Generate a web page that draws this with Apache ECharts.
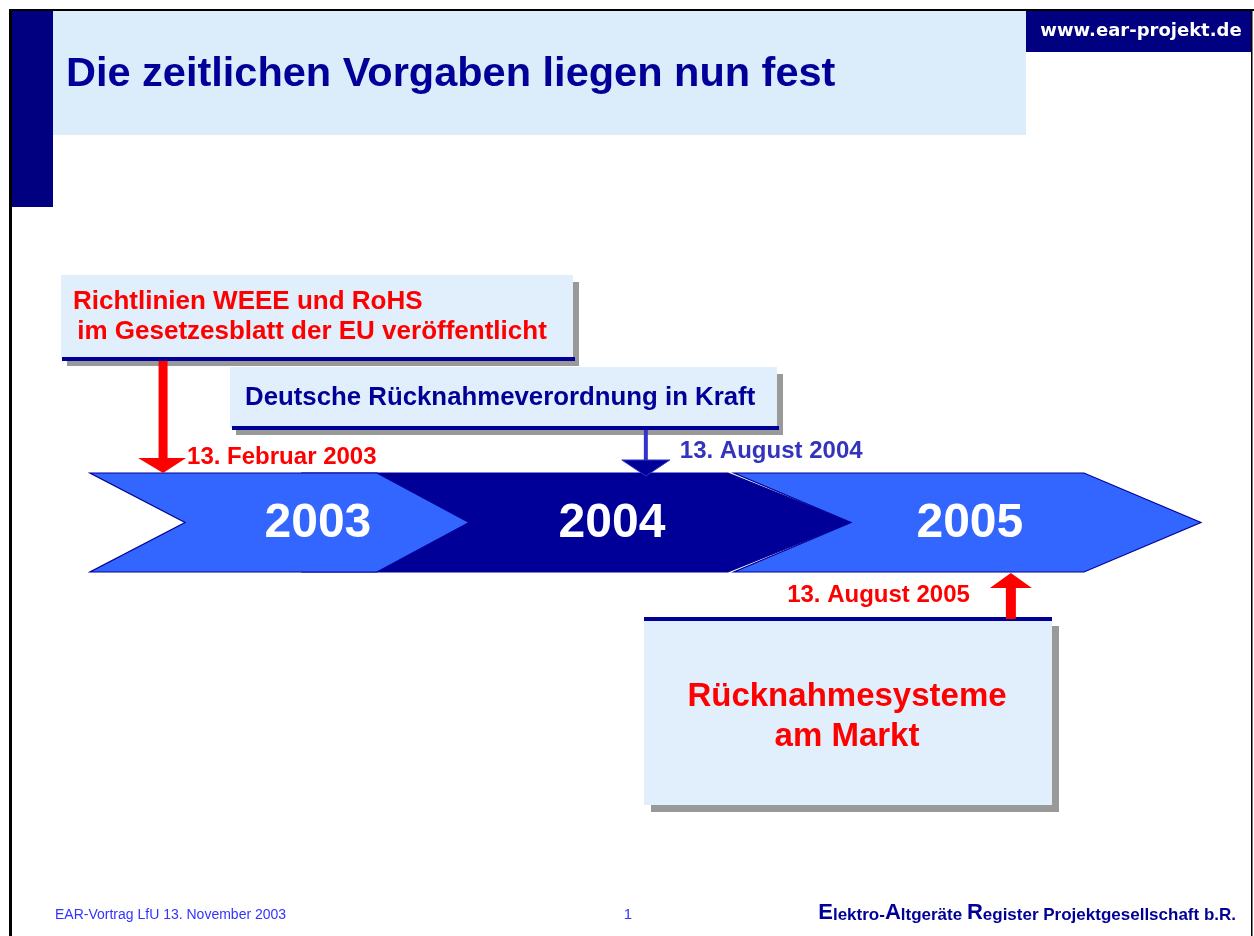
<!DOCTYPE html>
<html><head><meta charset="utf-8">
<script src="https://cdn.jsdelivr.net/npm/echarts@6/dist/echarts.min.js"></script>
<style>html,body{margin:0;padding:0;background:#fff}#c{width:1254px;height:936px}</style>
</head><body><div id="c"></div>
<script>
// ---- content / data ----
const titleText = 'Die zeitlichen Vorgaben liegen nun fest';
const siteText = 'www.ear-projekt.de';
const years = ['2003', '2004', '2005'];
// chevron extents on the timeline axis (year units)
const yearStart    = [2003.000, 2003.592, 2004.789];
const yearNotch    = [2003.264, 2003.856, 2005.114];
const yearShoulder = [2003.797, 2004.772, 2005.761];
const yearTip      = [2004.053, 2005.114, 2006.086];
const yearLabelAt  = [2003.633, 2004.450, 2005.444];
// events on the timeline
const eventDates = ['13. Februar 2003', '13. August 2004', '13. August 2005'];
const eventAt    = [2003.203, 2004.544, 2005.558];
const eventTexts = [
  ['Richtlinien WEEE und RoHS', ' im Gesetzesblatt der EU veröffentlicht'],
  ['Deutsche Rücknahmeverordnung in Kraft'],
  ['Rücknahmesysteme', 'am Markt']
];
const footerLeft = 'EAR-Vortrag LfU 13. November 2003';
const pageNo = '1';

// ---- layout / style ----
const FONT = '"Liberation Sans", Arial, Helvetica, sans-serif';
const NARROW = '"Liberation Sans Narrow", "Arial Narrow", "Liberation Sans", Arial, sans-serif';
const NAVY = '#000080';
const DARK = '#000099';
const BOXFILL = '#e1effc';
const L = { bandTop: 473, bandBottom: 572 };
const chevFill = ['#3366ff', '#000099', '#3366ff'];
const chevZ = [3, 1, 2];

const chart = echarts.init(document.getElementById('c'), null, { renderer: 'canvas' });

function renderChevron(params, api) {
  const i = params.dataIndex;
  const X = v => api.coord([v, 0])[0];
  const s = X(api.value(0)), sh = X(api.value(1)), tip = X(api.value(2)), n = X(api.value(3)), lab = X(api.value(4));
  const top = L.bandTop, bot = L.bandBottom, mid = (top + bot) / 2;
  return {
    type: 'group',
    children: [
      { type: 'polygon', z2: chevZ[i],
        shape: { points: [[s, top], [sh, top], [tip, mid], [sh, bot], [s, bot], [n, mid]] },
        style: { fill: chevFill[i], stroke: DARK, lineWidth: 1.2 } },
      { type: 'text', z2: 10,
        style: { text: years[i], x: lab, y: mid + 1, fill: '#ffffff', font: 'bold 48px ' + FONT,
                 align: 'center', verticalAlign: 'middle' } }
    ]
  };
}

function renderEvent(params, api) {
  const i = params.dataIndex;
  const x = api.coord([api.value(0), 0])[0];
  const kids = [];
  const dateFont = 'bold 24px ' + FONT;
  if (i === 0) {
    kids.push({ type: 'rect', shape: { x: x - 4.5, y: 361, width: 9, height: 98 }, style: { fill: '#ff0000' } });
    kids.push({ type: 'polygon', shape: { points: [[x - 25, 458], [x + 23, 458], [x, 473]] }, style: { fill: '#ff0000' } });
    kids.push({ type: 'text', style: { text: eventDates[i], x: x + 24, y: 457, fill: '#ff0000',
      font: dateFont, align: 'left', verticalAlign: 'middle' } });
  } else if (i === 1) {
    kids.push({ type: 'rect', shape: { x: x - 2, y: 430, width: 4, height: 30 }, style: { fill: '#3333cc' } });
    kids.push({ type: 'polygon', shape: { points: [[x - 24, 460], [x + 24, 460], [x, 476]] },
      style: { fill: DARK, stroke: '#3333cc', lineWidth: 1 } });
    kids.push({ type: 'text', style: { text: eventDates[i], x: x + 34, y: 451, fill: '#3333bb',
      font: dateFont, align: 'left', verticalAlign: 'middle' } });
  } else {
    kids.push({ type: 'polygon', shape: { points: [[x - 21, 588], [x + 21, 588], [x, 573]] }, style: { fill: '#ff0000' } });
    kids.push({ type: 'rect', shape: { x: x - 5, y: 587, width: 10, height: 32 }, style: { fill: '#ff0000' } });
    kids.push({ type: 'text', style: { text: eventDates[i], x: x - 41, y: 595, fill: '#ff0000',
      font: dateFont, align: 'right', verticalAlign: 'middle' } });
  }
  return { type: 'group', children: kids };
}

function box(x, y, w, h, lineY, lineX0, lineX1, shadowDx, shadowDy) {
  return [
    { type: 'rect', z: 1, shape: { x: x + shadowDx, y: y + shadowDy, width: w, height: h }, style: { fill: '#999999' } },
    { type: 'rect', z: 2, shape: { x: x, y: y, width: w, height: h }, style: { fill: BOXFILL } },
    { type: 'rect', z: 3, shape: { x: lineX0, y: lineY, width: lineX1 - lineX0, height: 4 }, style: { fill: DARK } }
  ];
}

const graphics = [
  // slide frame
  { type: 'rect', z: 0, shape: { x: 53, y: 11, width: 973, height: 124 }, style: { fill: '#dbedfb' } },
  { type: 'rect', z: 0, shape: { x: 12, y: 11, width: 41, height: 196 }, style: { fill: NAVY } },
  { type: 'rect', z: 0, shape: { x: 1026, y: 11, width: 226, height: 41 }, style: { fill: NAVY } },
  { type: 'rect', z: 5, shape: { x: 9, y: 9, width: 3, height: 927 }, style: { fill: '#000' } },
  { type: 'rect', z: 5, shape: { x: 9, y: 9, width: 1245, height: 2 }, style: { fill: '#000' } },
  { type: 'rect', z: 5, shape: { x: 1251, y: 9, width: 1.5, height: 927 }, style: { fill: '#000' } },
  { type: 'text', z: 5, style: { text: titleText, x: 66, y: 75, fill: DARK, font: 'bold 41.5px ' + FONT, verticalAlign: 'middle' } },
  { type: 'text', z: 5, style: { text: siteText, x: 1141, y: 31, fill: '#ffffff', font: 'bold 18px "DejaVu Sans", Verdana, sans-serif', align: 'center', verticalAlign: 'middle' } },
  // boxes
  ...box(61, 275, 512, 84, 357, 62, 575, 6, 7),
  { type: 'text', z: 4, style: { text: eventTexts[0][0], x: 73, y: 302, fill: '#ff0000', font: 'bold 26px ' + FONT, verticalAlign: 'middle' } },
  { type: 'text', z: 4, style: { text: eventTexts[0][1], x: 70, y: 332, fill: '#ff0000', font: 'bold 26px ' + FONT, verticalAlign: 'middle' } },
  ...box(230, 367, 547, 61, 426, 232, 779, 6, 7),
  { type: 'text', z: 4, style: { text: eventTexts[1][0], x: 245, y: 398, fill: DARK, font: 'bold 25.8px ' + FONT, verticalAlign: 'middle' } },
  ...box(644, 619, 408, 186, 617, 644, 1052, 7, 7),
  { type: 'text', z: 4, style: { text: eventTexts[2][0], x: 847, y: 697, fill: '#ff0000', font: 'bold 33px ' + FONT, align: 'center', verticalAlign: 'middle' } },
  { type: 'text', z: 4, style: { text: eventTexts[2][1], x: 847, y: 737, fill: '#ff0000', font: 'bold 33px ' + FONT, align: 'center', verticalAlign: 'middle' } },
  // footer
  { type: 'text', z: 5, style: { text: footerLeft, x: 55, y: 915, fill: '#3333ff', font: '14px ' + NARROW, verticalAlign: 'middle' } },
  { type: 'text', z: 5, style: { text: pageNo, x: 628, y: 915, fill: '#3333ff', font: '15px ' + FONT, align: 'center', verticalAlign: 'middle' } },
  { type: 'text', z: 5, style: {
      text: '{b|E}{s|lektro-}{b|A}{s|ltgeräte }{b|R}{s|egister Projektgesellschaft b.R.}',
      x: 1236, y: 913, align: 'right', verticalAlign: 'middle',
      rich: {
        b: { fontSize: 22, fontWeight: 'bold', fontFamily: NARROW, fill: DARK, color: DARK, verticalAlign: 'bottom' },
        s: { fontSize: 17, fontWeight: 'bold', fontFamily: NARROW, fill: DARK, color: DARK, verticalAlign: 'bottom' }
      } } }
];

const xMin = 2002.75, xMax = 2002.75 + 1254 / 360;

chart.setOption({
  animation: false,
  backgroundColor: '#ffffff',
  grid: { left: 0, right: 0, top: 0, bottom: 0 },
  xAxis: { type: 'value', min: xMin, max: xMax, show: false },
  yAxis: { type: 'value', min: 0, max: 1, show: false },
  graphic: graphics,
  series: [
    { type: 'custom', name: 'Jahre', z: 3, renderItem: renderChevron,
      data: years.map((y, i) => [yearStart[i], yearShoulder[i], yearTip[i], yearNotch[i], yearLabelAt[i]]) },
    { type: 'custom', name: 'Termine', z: 4, renderItem: renderEvent,
      data: eventAt.map((v, i) => [v, i]) }
  ]
});
</script>
</body></html>
